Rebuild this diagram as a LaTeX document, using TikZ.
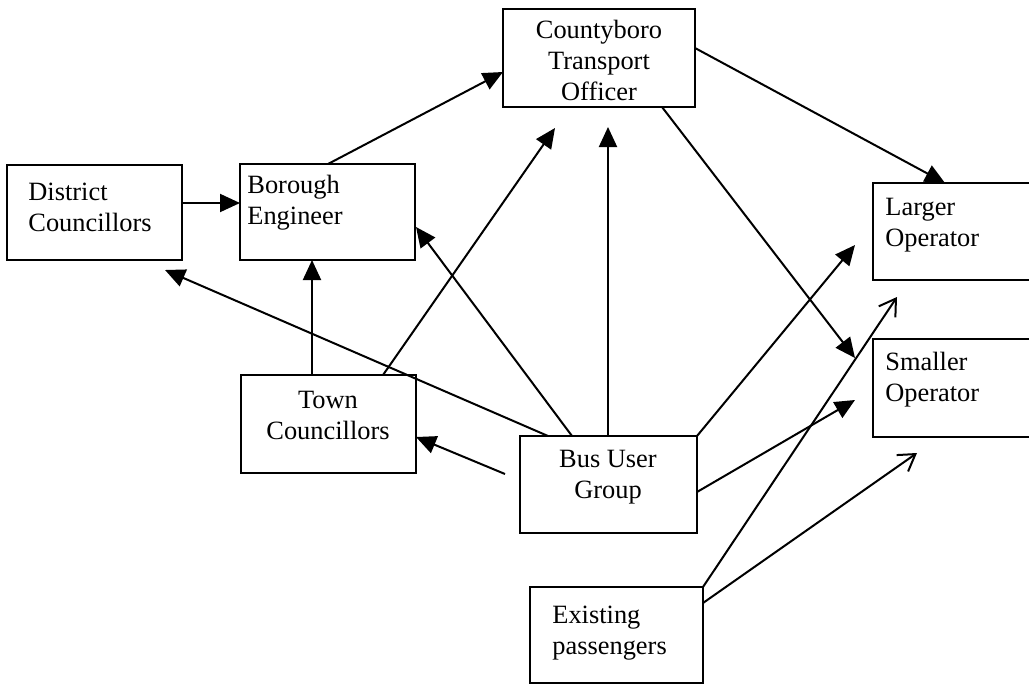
\documentclass[tikz,border=0pt]{standalone}
\usepackage{fontspec}
\setmainfont{Liberation Serif}
\usetikzlibrary{arrows.meta,calc}
\begin{document}
\begin{tikzpicture}[x=0.5pt,y=-0.5pt,
  box/.style={draw, line width=1.2pt, inner sep=0pt, outer sep=0pt, anchor=north west},
  lbl/.style={inner sep=0pt, font=\fontsize{13.2pt}{15.5pt}\selectfont},
  con/.style={line width=1pt, -{Triangle[length=10pt,width=9pt]}},
  opn/.style={line width=1pt, -{Straight Barb[length=8pt,width=10pt]}}]
\useasboundingbox (0,0) rectangle (1029,685);
% boxes
\node[box, minimum width=87.5pt, minimum height=47.5pt] (dc) at (7,165) {};
\node[box, minimum width=87.5pt, minimum height=48pt] (be) at (240,164) {};
\node[box, minimum width=96pt, minimum height=49pt] (cto) at (503,9) {};
\node[box, minimum width=85pt, minimum height=48.5pt] (lo) at (873,183) {};
\node[box, minimum width=85pt, minimum height=49pt] (so) at (873,339) {};
\node[box, minimum width=87.5pt, minimum height=49pt] (tc) at (241,375) {};
\node[box, minimum width=88.5pt, minimum height=48.5pt] (bug) at (520,436) {};
\node[box, minimum width=86.5pt, minimum height=48pt] (ep) at (530,587) {};
% texts (base anchor = baseline of last line)
\node[lbl, align=left, anchor=base west] (tdc) at (28,231) {District\\Councillors};
\node[lbl, align=left, anchor=base west] (tbe) at (247,224) {Borough\\Engineer};
\node[lbl, align=center, anchor=base] (tcto) at (599,100) {Countyboro\\Transport\\Officer};
\node[lbl, align=left, anchor=base west] (tlo) at (885,246) {Larger\\Operator};
\node[lbl, align=left, anchor=base west] (tso) at (885,401) {Smaller\\Operator};
\node[lbl, align=center, anchor=base] (ttc) at (328,439) {Town\\Councillors};
\node[lbl, align=center, anchor=base] (tbug) at (608,498) {Bus User\\Group};
\node[lbl, align=left, anchor=base west] (tep) at (552,654) {Existing\\passengers};
% connectors
\draw[con] ($(dc.north east)+(0,38)$) -- ($(be.north west)+(0,39)$);
\draw[con] ($(be.north west)+(88,0)$) -- ($(cto.north west)+(0,63)$);
\draw[con] ($(cto.north east)+(0,39)$) -- ($(lo.north west)+(72,0)$);
\draw[con] ($(cto.south west)+(159,0)$) -- ($(so.north west)+(-18,19)$);
\draw[con] ($(tc.north west)+(71,0)$) -- ($(be.south west)+(72,0)$);
\draw[con] ($(tc.north west)+(142,0)$) -- ($(cto.south west)+(52,21)$);
\draw[con] ($(bug.north west)+(28,0)$) -- ($(dc.south west)+(158,10)$);
\draw[con] ($(bug.north west)+(52,0)$) -- ($(be.north east)+(1,63)$);
\draw[con] ($(bug.north west)+(88,0)$) -- ($(cto.south west)+(105,20)$);
\draw[con] (bug.north east) -- ($(lo.north west)+(-18,62)$);
\draw[con] ($(bug.north east)+(0,56)$) -- ($(so.north west)+(-18,61)$);
\draw[con] ($(bug.north west)+(-15,38)$) -- ($(tc.north east)+(0,62)$);
\draw[opn] (ep.north east) -- ($(lo.south west)+(24,17)$);
\draw[opn] ($(ep.north east)+(0,16)$) -- ($(so.south west)+(44,16)$);
\end{tikzpicture}
\end{document}
